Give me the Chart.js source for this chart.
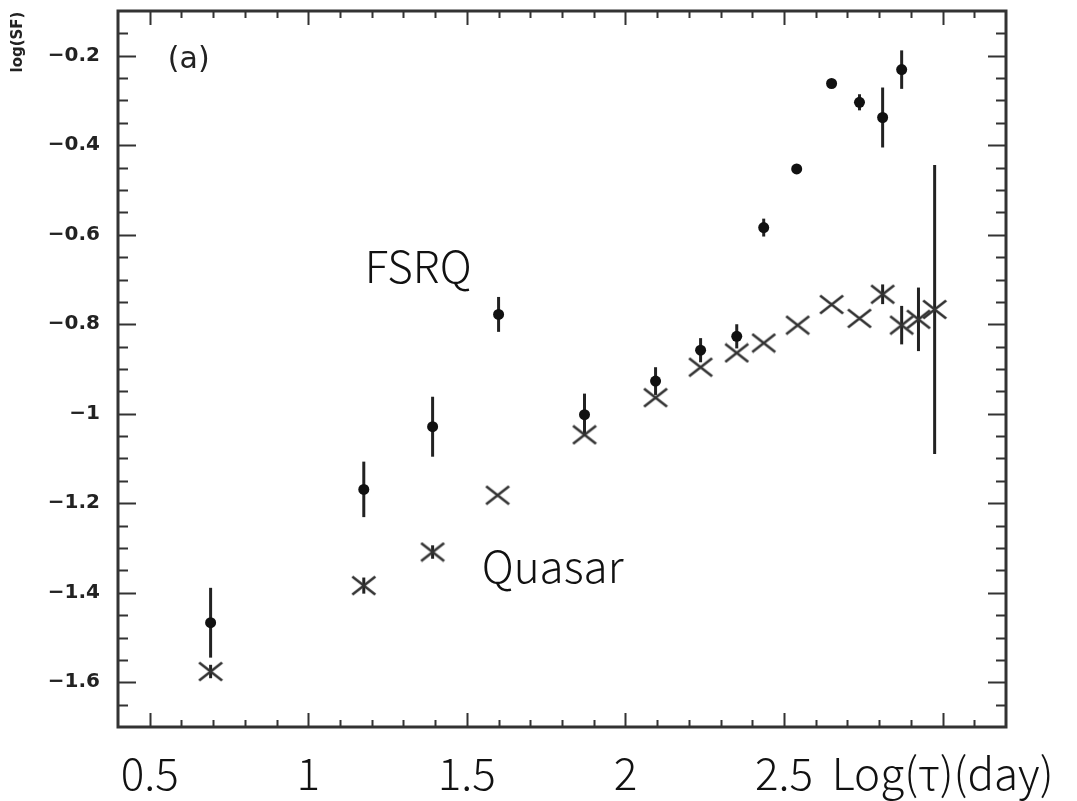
<!DOCTYPE html>
<html>
<head>
<meta charset="utf-8">
<script src="https://cdn.jsdelivr.net/npm/chart.js@4.4.1/dist/chart.umd.min.js"></script>
<style>
  html, body { margin: 0; padding: 0; background: #fff; }
  canvas { display: block; }
</style>
</head>
<body>
<canvas id="sfChart" width="1077" height="801"></canvas>
<script>
/* =====================
   データ
===================== */
const fsrqX   = [0.692, 1.175, 1.392, 1.600, 1.871, 2.095, 2.237, 2.351, 2.436, 2.540, 2.650, 2.738, 2.811, 2.871];
const fsrqY   = [-1.467, -1.169, -1.029, -0.778, -1.002, -0.927, -0.858, -0.827, -0.584, -0.453, -0.262, -0.304, -0.338, -0.231];
const fsrqErr = [0.078, 0.062, 0.067, 0.039, 0.047, 0.031, 0.027, 0.027, 0.020, 0, 0, 0.018, 0.067, 0.043];

const quasarX   = [0.692, 1.175, 1.392, 1.597, 1.871, 2.095, 2.237, 2.351, 2.436, 2.543, 2.650, 2.738, 2.811, 2.871, 2.924, 2.975];
const quasarY   = [-1.576, -1.384, -1.309, -1.182, -1.047, -0.964, -0.896, -0.864, -0.842, -0.802, -0.756, -0.787, -0.733, -0.802, -0.789, -0.767];
const quasarErr = [0.015, 0.018, 0.015, 0, 0, 0, 0, 0, 0, 0, 0, 0, 0.022, 0.043, 0.071, 0.323];

const xTickValues = [0.5, 1, 1.5, 2, 2.5, 3];
const xTickLabels = ['0.5', '1', '1.5', '2', '2.5', 'Log(\u03c4)(day)'];
const yTickValues = [-0.2, -0.4, -0.6, -0.8, -1, -1.2, -1.4, -1.6];
const yTickLabels = ['\u22120.2', '\u22120.4', '\u22120.6', '\u22120.8', '\u22121', '\u22121.2', '\u22121.4', '\u22121.6'];

const X_MIN = 0.4, X_MAX = 3.2;
const Y_MIN = -1.7, Y_MAX = -0.1;

const INK = '#222';
const CJK_FONT = '"Noto Sans CJK SC", "Noto Sans", sans-serif';

/* =====================
   ヘルパー
===================== */
function toPoints(xs, ys) {
    return xs.map((x, i) => ({ x: x, y: ys[i] }));
}

// × マーカー (少し横長)
function makeCrossMarker() {
    const c = document.createElement('canvas');
    c.width = 26;
    c.height = 21;
    const g = c.getContext('2d');
    g.strokeStyle = '#333';
    g.lineWidth = 2.6;
    g.beginPath();
    g.moveTo(1.5, 1.5); g.lineTo(24.5, 19.5);
    g.moveTo(24.5, 1.5); g.lineTo(1.5, 19.5);
    g.stroke();
    return c;
}

// 軸ラベルのはみ出し分の余白を消す (枠の位置は layout.padding で決める)
function noScalePadding(scale) {
    scale.paddingTop = 0;
    scale.paddingBottom = 0;
    scale.paddingLeft = 0;
    scale.paddingRight = 0;
}

/* =====================
   プラグイン: 誤差棒
===================== */
const errorBarPlugin = {
    id: 'errorBars',
    beforeDatasetsDraw(chart) {
        const ctx = chart.ctx;
        const xs = chart.scales.x, ys = chart.scales.y;
        ctx.save();
        ctx.strokeStyle = INK;
        ctx.lineWidth = 3;
        chart.data.datasets.forEach(ds => {
            if (!ds.yErr) return;
            ds.data.forEach((p, i) => {
                const e = ds.yErr[i];
                if (!e) return;
                const px = xs.getPixelForValue(p.x);
                ctx.beginPath();
                ctx.moveTo(px, ys.getPixelForValue(p.y + e));
                ctx.lineTo(px, ys.getPixelForValue(p.y - e));
                ctx.stroke();
            });
        });
        ctx.restore();
    }
};

/* =====================
   プラグイン: 枠線と内向き目盛り + 注記
===================== */
const framePlugin = {
    id: 'frame',
    afterDraw(chart) {
        const ctx = chart.ctx;
        const a = chart.chartArea;
        const xs = chart.scales.x, ys = chart.scales.y;
        ctx.save();
        ctx.strokeStyle = '#333';
        ctx.lineWidth = 2;
        ctx.beginPath();
        // x 目盛り 0.1 刻み, 0.5 ごとに長く
        for (let i = 1; i < 28; i++) {
            const v = X_MIN + i * 0.1;
            const px = Math.round(xs.getPixelForValue(v)) + 0.5;
            const len = (i % 5 === 1) ? 14 : 7;
            ctx.moveTo(px, a.bottom); ctx.lineTo(px, a.bottom - len);
            ctx.moveTo(px, a.top); ctx.lineTo(px, a.top + len);
        }
        // y 目盛り 0.05 刻み, 0.2 ごとに長く
        for (let i = 1; i < 32; i++) {
            const v = Y_MIN + i * 0.05;
            const py = Math.round(ys.getPixelForValue(v)) + 0.5;
            const len = (i % 4 === 2) ? 18 : 10;
            ctx.moveTo(a.left, py); ctx.lineTo(a.left + len, py);
            ctx.moveTo(a.right, py); ctx.lineTo(a.right - len, py);
        }
        ctx.stroke();

        ctx.lineWidth = 3;
        ctx.strokeRect(a.left, a.top, a.right - a.left, a.bottom - a.top);

        // 注記
        ctx.fillStyle = '#111';
        ctx.textBaseline = 'alphabetic';
        ctx.textAlign = 'left';
        ctx.font = '300 44px ' + CJK_FONT;
        ctx.fillText('FSRQ', xs.getPixelForValue(1.178), ys.getPixelForValue(-0.707));
        ctx.fillText('Quasar', xs.getPixelForValue(1.547), ys.getPixelForValue(-1.378));

        ctx.fillStyle = INK;
        ctx.font = '30px "DejaVu Sans", sans-serif';
        ctx.textBaseline = 'middle';
        ctx.fillText('(a)', xs.getPixelForValue(0.557), ys.getPixelForValue(-0.211));

        // 縦軸ラベル
        ctx.save();
        ctx.translate(18, 42);
        ctx.rotate(-Math.PI / 2);
        ctx.textAlign = 'center';
        ctx.font = 'bold 15px "DejaVu Sans", sans-serif';
        ctx.fillText('log(SF)', 0, 0);
        ctx.restore();

        ctx.restore();
    }
};

/* =====================
   Chart.js
===================== */
const canvas = document.getElementById('sfChart');

new Chart(canvas, {
    type: 'scatter',
    data: {
        datasets: [
            {
                label: 'FSRQ',
                data: toPoints(fsrqX, fsrqY),
                yErr: fsrqErr,
                pointStyle: 'circle',
                pointRadius: 5.5,
                pointBackgroundColor: '#111',
                pointBorderWidth: 0
            },
            {
                label: 'Quasar',
                data: toPoints(quasarX, quasarY),
                yErr: quasarErr,
                pointStyle: makeCrossMarker(),
                pointRadius: 10
            }
        ]
    },
    plugins: [errorBarPlugin, framePlugin],
    options: {
        responsive: false,
        animation: false,
        layout: { padding: { top: 9, right: 71, left: 0, bottom: 0 } },
        plugins: {
            legend: { display: false },
            tooltip: { enabled: false }
        },
        scales: {
            x: {
                type: 'linear',
                min: X_MIN,
                max: X_MAX,
                grid: { display: false, drawTicks: false },
                border: { display: false },
                afterBuildTicks: function(scale) {
                    scale.ticks = xTickValues.map(v => ({ value: v }));
                },
                afterFit: function(scale) {
                    scale.height = 74;
                    noScalePadding(scale);
                },
                ticks: {
                    autoSkip: false,
                    maxRotation: 0,
                    padding: 20,
                    color: '#111',
                    font: { family: CJK_FONT, size: 44, weight: '300' },
                    callback: function(value) {
                        const i = xTickValues.indexOf(value);
                        return i >= 0 ? xTickLabels[i] : '';
                    }
                }
            },
            y: {
                type: 'linear',
                min: Y_MIN,
                max: Y_MAX,
                grid: { display: false, drawTicks: false },
                border: { display: false },
                afterBuildTicks: function(scale) {
                    scale.ticks = yTickValues.map(v => ({ value: v }));
                },
                afterFit: function(scale) {
                    scale.width = 118;
                    noScalePadding(scale);
                },
                ticks: {
                    autoSkip: false,
                    padding: 18,
                    color: INK,
                    font: { family: '"DejaVu Sans", sans-serif', size: 20, weight: 'bold' },
                    callback: function(value) {
                        const i = yTickValues.findIndex(v => Math.abs(v - value) < 1e-6);
                        return i >= 0 ? yTickLabels[i] : '';
                    }
                }
            }
        }
    }
});
</script>
</body>
</html>
